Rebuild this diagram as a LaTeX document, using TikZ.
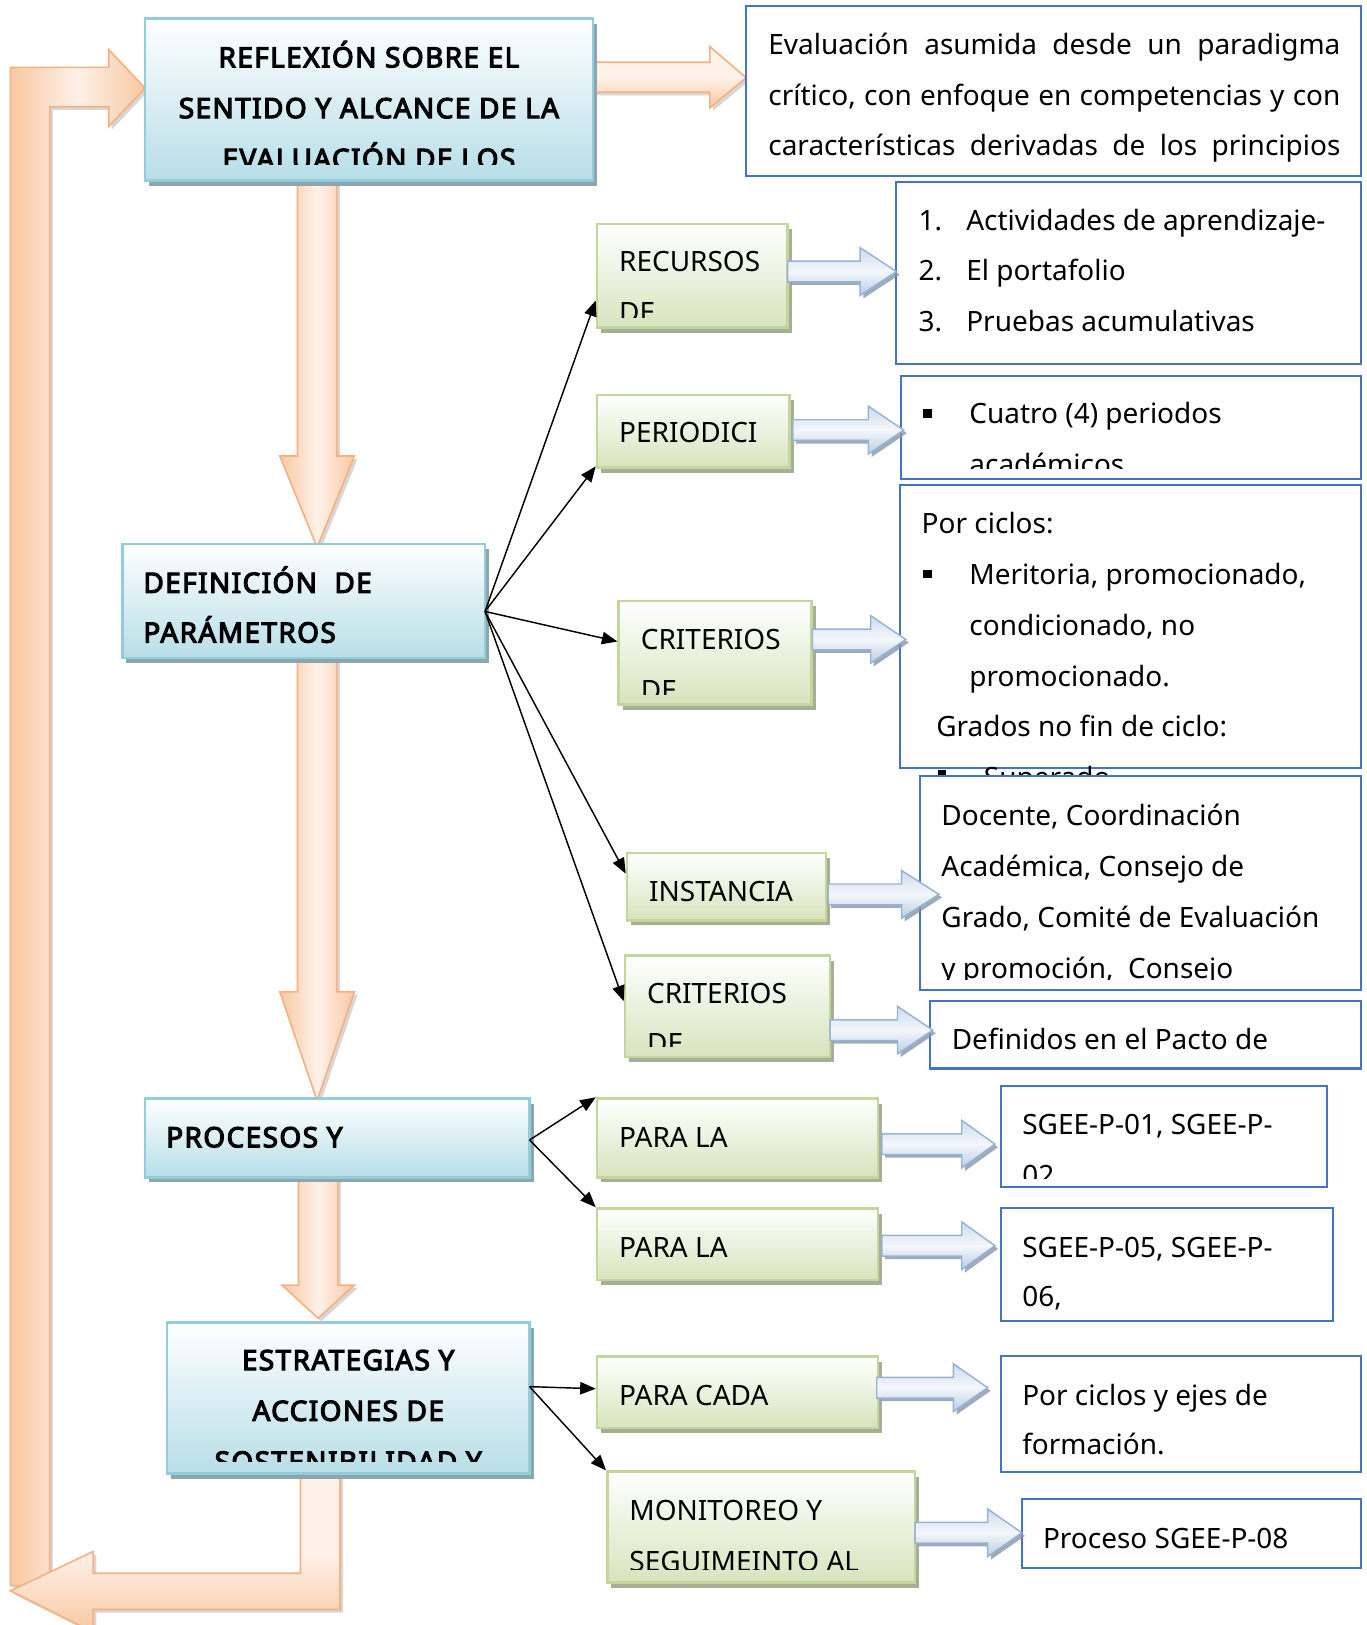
\documentclass[tikz,border=0pt]{standalone}
\usepackage{fontspec}
\setmainfont{Noto Sans}
\newfontfamily\boldfam{Noto Sans}[FakeBold=4, LetterSpace=5]
\usetikzlibrary{arrows.meta,shadows,fit,calc}
\definecolor{bbord}{HTML}{92CDDC}
\definecolor{bbot}{HTML}{B7DEE8}
\definecolor{bshad}{HTML}{8FA5AD}
\definecolor{gbord}{HTML}{C3D69B}
\definecolor{gbot}{HTML}{D7E4BD}
\definecolor{gshad}{HTML}{A6AE98}
\definecolor{obord}{HTML}{F4B183}
\definecolor{ofill}{HTML}{F9C8A2}
\definecolor{olight}{HTML}{FEF1E8}
\definecolor{sbord}{HTML}{95B3D7}
\definecolor{sbot}{HTML}{B8CCE4}
\definecolor{sshad}{HTML}{8896A8}
\definecolor{boxblue}{HTML}{4472C4}
\tikzset{
  bluebox/.style={draw=bbord, line width=1.2pt, top color=white, bottom color=bbot, inner sep=0pt,
    drop shadow={shadow xshift=2pt, shadow yshift=-2.5pt, fill=bshad, opacity=1}},
  greenbox/.style={draw=gbord, line width=1.2pt, top color=white, bottom color=gbot, inner sep=0pt,
    drop shadow={shadow xshift=2pt, shadow yshift=-2.5pt, fill=gshad, opacity=1}},
  outbox/.style={draw=boxblue, line width=1pt, fill=white, inner sep=0pt},
  bigv/.style={draw=obord, line width=0.8pt, left color=ofill, right color=ofill, middle color=olight,
    drop shadow={shadow xshift=1.5pt, shadow yshift=-1.5pt, fill=gray!45, opacity=0.7}},
  bigh/.style={draw=obord, line width=0.8pt, top color=olight, bottom color=ofill, middle color=olight,
    drop shadow={shadow xshift=1.5pt, shadow yshift=-1.5pt, fill=gray!45, opacity=0.7}},
  smallarr/.style={draw=sbord, line width=0.7pt, top color=sbot!70, bottom color=sbot, middle color=white!85!sbot,
    drop shadow={shadow xshift=1.5pt, shadow yshift=-1.5pt, fill=sshad, opacity=0.8}},
  tx/.style={font=\fontsize{13.5}{16}\selectfont, inner sep=0pt, anchor=base west},
  txc/.style={font=\fontsize{13.5}{16}\selectfont\boldfam, inner sep=0pt, anchor=base},
  txb/.style={font=\fontsize{13.5}{16}\selectfont\boldfam, inner sep=0pt, anchor=base west},
  conn/.style={line width=0.7pt, -{Triangle[length=7.5pt,width=6pt]}},
}
\newcommand\vdown[5]{% xc, ytop, ybase, ytip, headhalf
  \path[bigv] ({#1-19},#2) -- ({#1+19},#2) -- ({#1+19},#3) -- ({#1+#5},#3) -- (#1,#4)
    -- ({#1-#5},#3) -- ({#1-19},#3) -- cycle;}
\newcommand\sarrow[4]{% x1, xbase, xtip, yc
  \path[smallarr] (#1,{#4-10}) -- (#2,{#4-10}) -- (#2,{#4-23}) -- (#3,#4) -- (#2,{#4+23})
    -- (#2,{#4+10}) -- (#1,{#4+10}) -- cycle;}
\newcommand\sqbul[2]{\fill ({#1-4},{#2-4}) rectangle ({#1+4},{#2+4});}
\begin{document}
\begin{tikzpicture}[x=0.5pt,y=-0.5pt]
\useasboundingbox (0,0) rectangle (1319,1568);
% ---------- big orange arrows ----------
\path[bigv] (10,1530) -- (10,65) -- (105,65) -- (105,48) -- (140,85) -- (105,122) -- (105,103)
  -- (48,103) -- (48,1530) -- cycle;
\path[bigh] (572,60) -- (685,60) -- (685,45) -- (720,75) -- (685,104) -- (685,89) -- (572,89) -- cycle;
\vdown{306}{174}{440}{528}{36}
\vdown{306}{635}{957}{1062}{36}
\vdown{307}{1136}{1240}{1272}{35}
\path[bigh] (290,1422) -- (328,1422) -- (328,1553) -- (90,1553) -- (90,1575) -- (10,1535)
  -- (90,1497) -- (90,1518) -- (290,1518) -- cycle;
% ---------- blue boxes ----------
\node[bluebox, fit={(140,18) (572,174)}] (reflex) {};
\begin{scope}\clip (140,18) rectangle (572,159);
\node[txc] (reflexA) at (356,65) {REFLEXIÓN SOBRE EL};
\node[txc] (reflexB) at (356,114) {SENTIDO Y ALCANCE DE LA};
\node[txc] (reflexC) at (356,163) {EVALUACIÓN DE LOS};
\end{scope}
\node[bluebox, fit={(118,525) (468,635)}] (defn) {};
\node[txb] (defnA) at (138,572) {DEFINICIÓN\ \ DE};
\node[txb] (defnB) at (138,620) {PARÁMETROS};
\node[bluebox, fit={(140,1060) (511,1136)}] (proc) {};
\node[txb] (procA) at (160,1107) {PROCESOS Y};
\node[bluebox, fit={(161,1276) (511,1422)}] (estr) {};
\begin{scope}\clip (161,1276) rectangle (511,1410);
\node[txc] (estrA) at (336,1322) {ESTRATEGIAS Y};
\node[txc] (estrB) at (336,1371) {ACCIONES DE};
\node[txc] (estrC) at (336,1420) {SOSTENIBILIDAD Y};
\end{scope}
% ---------- green boxes ----------
\node[greenbox, fit={(576,216) (760,316)}] (rec) {};
\begin{scope}\clip (576,216) rectangle (760,306);
\node[tx] (recA) at (597,262) {RECURSOS};
\node[tx] (recB) at (597,311) {DE};
\end{scope}
\node[greenbox, fit={(576,381) (762,451)}] (per) {};
\node[tx] (perA) at (597,427) {PERIODICI};
\node[greenbox, fit={(597,580) (783,680)}] (crit) {};
\begin{scope}\clip (597,580) rectangle (783,670);
\node[tx] (critA) at (618,627) {CRITERIOS};
\node[tx] (critB) at (618,676) {DE};
\end{scope}
\node[greenbox, fit={(605,823) (797,888)}] (inst) {};
\node[tx] (instA) at (626,870) {INSTANCIA};
\node[greenbox, fit={(603,922) (801,1020)}] (critb) {};
\begin{scope}\clip (603,922) rectangle (801,1010);
\node[tx] (critbA) at (624,968) {CRITERIOS};
\node[tx] (critbB) at (624,1017) {DE};
\end{scope}
\node[greenbox, fit={(576,1060) (847,1136)}] (paraa) {};
\node[tx] (paraaA) at (597,1107) {PARA LA};
\node[greenbox, fit={(576,1166) (847,1235)}] (parab) {};
\node[tx] (parabA) at (597,1213) {PARA LA};
\node[greenbox, fit={(576,1309) (847,1378)}] (cada) {};
\node[tx] (cadaA) at (597,1356) {PARA CADA};
\node[greenbox, fit={(586,1420) (883,1527)}] (mon) {};
\begin{scope}\clip (586,1420) rectangle (883,1514);
\node[tx] (monA) at (607,1467) {MONITOREO Y};
\node[tx] (monB) at (607,1516) {SEGUIMEINTO AL};
\end{scope}
% ---------- output boxes ----------
\node[outbox, fit={(720,6) (1313,170)}] (eval) {};
\node[tx] (evalA) at (741,53) {\makebox[276pt][s]{Evaluación asumida desde un paradigma}};
\node[tx] (evalB) at (741,102) {\makebox[276pt][s]{crítico, con enfoque en competencias y con}};
\node[tx] (evalC) at (741,150) {\makebox[276pt][s]{características derivadas de los principios}};
\node[outbox, fit={(865,176) (1313,351)}] (list) {};
\node[tx] (listn1) at (886,222) {1.};
\node[tx] (listA) at (932,222) {Actividades de aprendizaje-};
\node[tx] (listn2) at (886,271) {2.};
\node[tx] (listB) at (932,271) {El portafolio};
\node[tx] (listn3) at (886,320) {3.};
\node[tx] (listC) at (932,320) {Pruebas acumulativas};
\node[outbox, fit={(869,363) (1313,462)}] (cuatro) {};
\sqbul{895}{399}
\begin{scope}\clip (869,363) rectangle (1313,452);
\node[tx] (cuatroA) at (935,409) {Cuatro (4) periodos};
\node[tx] (cuatroB) at (935,458) {académicos};
\end{scope}
\node[outbox, fit={(868,468) (1313,741)}] (ciclos) {};
\node[tx] (ciclosA) at (889,515) {Por ciclos:};
\sqbul{895}{554}
\node[tx] (ciclosB) at (935,564) {Meritoria, promocionado,};
\node[tx] (ciclosC) at (935,613) {condicionado, no};
\node[tx] (ciclosD) at (935,662) {promocionado.};
\node[tx] (ciclosE) at (903,711) {Grados no fin de ciclo:};
\sqbul{909}{747}
\node[tx] (ciclosF) at (949,760) {Superado};
\node[outbox, fit={(888,749) (1313,955)}] (doc) {};
\begin{scope}\clip (888,749) rectangle (1313,945);
\node[tx] (docA) at (908,797) {Docente, Coordinación};
\node[tx] (docB) at (908,846) {Académica, Consejo de};
\node[tx] (docC) at (908,895) {Grado, Comité de Evaluación};
\node[tx] (docD) at (908,944) {y promoción,\ \ Consejo};
\end{scope}
\node[outbox, fit={(897,966) (1313,1031)}] (def) {};
\node[tx] (defA) at (918,1013) {Definidos en el Pacto de};
\node[outbox, fit={(966,1048) (1280,1145)}] (sga) {};
\begin{scope}\clip (966,1048) rectangle (1280,1137);
\node[tx] (sgaA) at (986,1095) {SGEE-P-01, SGEE-P-};
\node[tx] (sgaB) at (986,1144) {02};
\end{scope}
\node[outbox, fit={(966,1166) (1286,1275)}] (sgb) {};
\node[tx] (sgbA) at (986,1213) {SGEE-P-05, SGEE-P-};
\node[tx] (sgbB) at (986,1261) {06,};
\node[outbox, fit={(966,1308) (1313,1420)}] (ejes) {};
\node[tx] (ejesA) at (986,1356) {Por ciclos y ejes de};
\node[tx] (ejesB) at (986,1403) {formación.};
\node[outbox, fit={(986,1446) (1313,1513)}] (pocho) {};
\node[tx] (pochoA) at (1006,1494) {Proceso SGEE-P-08};
% ---------- small blue arrows ----------
\sarrow{760}{830}{865}{262}
\sarrow{765}{838}{872}{415}
\sarrow{784}{840}{874}{617}
\sarrow{799}{870}{906}{863}
\sarrow{801}{866}{900}{994}
\sarrow{851}{928}{960}{1104}
\sarrow{851}{928}{960}{1202}
\sarrow{846}{920}{953}{1339}
\sarrow{883}{953}{986}{1479}
% ---------- thin connectors ----------
\coordinate (dsrc) at (468,590);
\coordinate (psrc) at (511,1100);
\coordinate (esrc) at (511,1338);
\draw[conn] (dsrc) -- (rec.west |- 0,290);
\draw[conn] (dsrc) -- (per.west |- 0,450);
\draw[conn] (dsrc) -- (crit.west |- 0,619);
\draw[conn] (dsrc) -- (inst.west |- 0,843);
\draw[conn] (dsrc) -- (critb.west |- 0,966);
\draw[conn] (psrc) -- (paraa.north west);
\draw[conn] (psrc) -- (parab.north west);
\draw[conn] (esrc) -- (cada.west |- 0,1340);
\draw[conn] (esrc) -- (mon.north west);
\end{tikzpicture}
\end{document}
